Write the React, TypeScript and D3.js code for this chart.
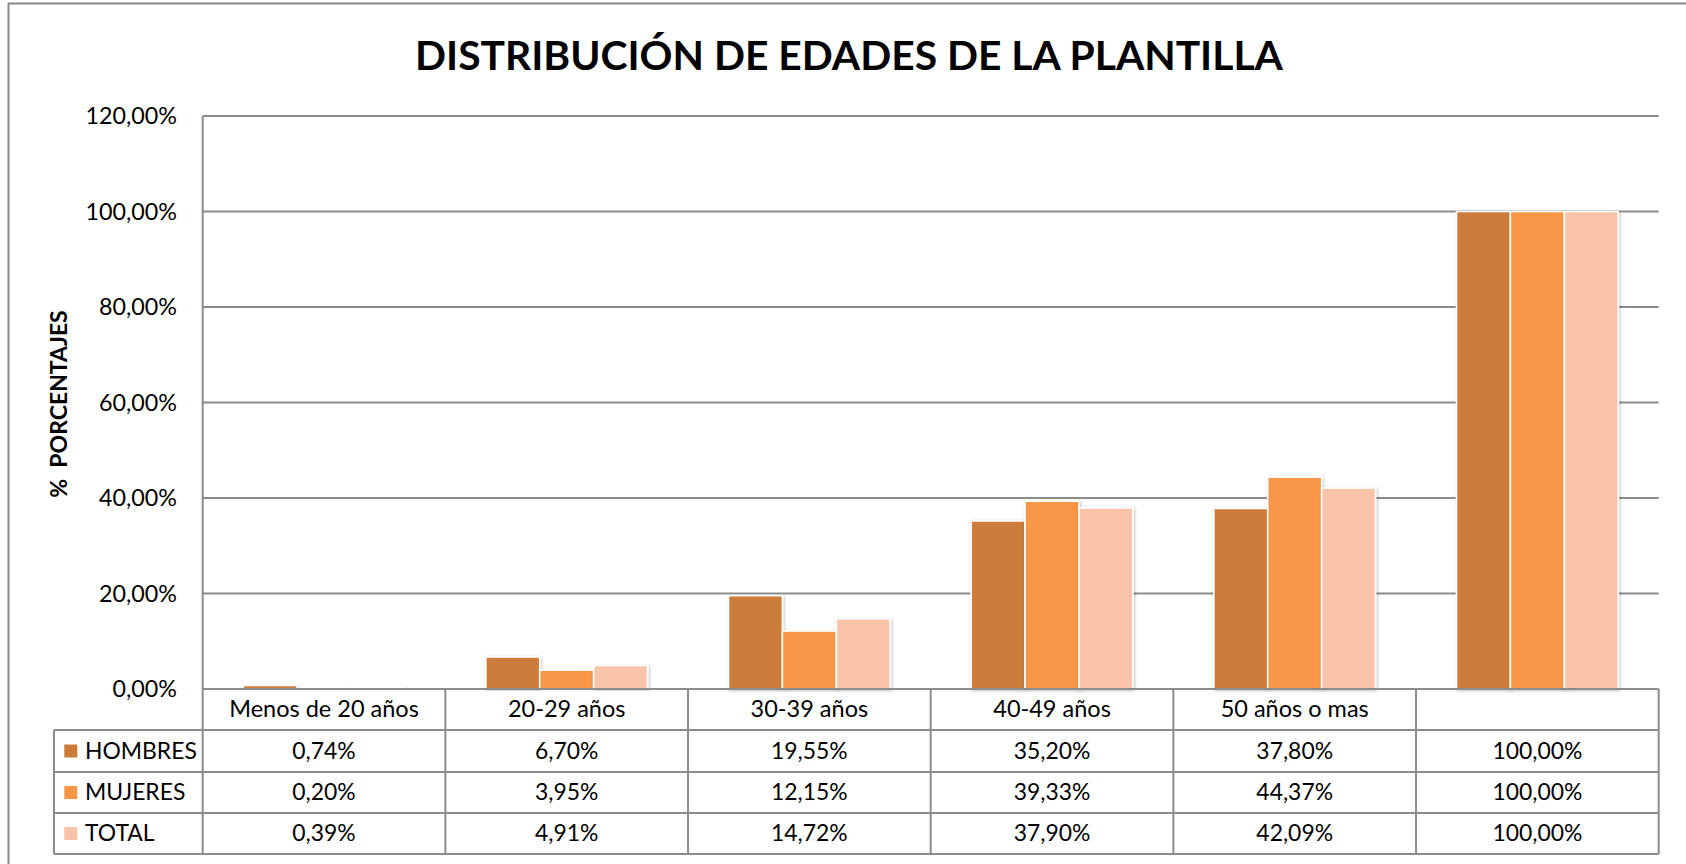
import React from "react";
import * as d3 from "d3";

const categories = ["Menos de 20 años", "20-29 años", "30-39 años", "40-49 años", "50 años o mas", ""];
const seriesNames = ["HOMBRES", "MUJERES", "TOTAL"];
const hombres = [0.0074, 0.067, 0.1955, 0.352, 0.378, 1.0];
const mujeres = [0.002, 0.0395, 0.1215, 0.3933, 0.4437, 1.0];
const total = [0.0039, 0.0491, 0.1472, 0.379, 0.4209, 1.0];
const yTicks = [0, 0.2, 0.4, 0.6, 0.8, 1.0, 1.2];
const colors = ["#CC7B3A", "#F79646", "#F9C3A9"];

const W = 1686;
const H = 864;
const plotLeft = 202.7;
const plotRight = 1658.7;
const plotTop = 116;
const plotBottom = 689;
const rowYs = [689, 730, 772, 813, 854];
const tableLeft = 54;
const FONT = "Lato, 'Open Sans', sans-serif";
const lineColor = "#8c8c8c";

const fmt = (v: number) => (v * 100).toFixed(2).replace(".", ",") + "%";

export default function App() {
  const series = [hombres, mujeres, total];
  const x = d3.scaleBand<string>().domain(categories.map((_, i) => String(i))).range([plotLeft, plotRight]).paddingInner(0).paddingOuter(0);
  const xs = d3.scaleBand<string>().domain(seriesNames).range([0, x.bandwidth()]).paddingInner(0).paddingOuter(0.75);
  const y = d3.scaleLinear().domain([0, 1.2]).range([plotBottom, plotTop]);

  const boundaries = categories.map((_, i) => x(String(i)) as number).concat([plotRight]);

  return (
    <svg width={W} height={H} style={{ position: "absolute", left: 0, top: 0, display: "block", background: "#fff" }} fontFamily={FONT}>
      <defs>
        <filter id="sh" x="-20%" y="-5%" width="140%" height="110%">
          <feDropShadow dx="1" dy="1" stdDeviation="1.6" floodColor="#000" floodOpacity="0.28" />
        </filter>
      </defs>
      <rect x={0} y={0} width={W} height={H} fill="#fff" />
      {/* outer frame */}
      <rect x={8.5} y={3.5} width={W + 20} height={H + 20} fill="none" stroke="#888" strokeWidth={2} />

      {/* title */}
      <text x={849} y={70} textAnchor="middle" fontSize={40.8} fontWeight="bold" fill="#000">
        DISTRIBUCIÓN DE EDADES DE LA PLANTILLA
      </text>

      {/* gridlines */}
      {yTicks.filter((t) => t > 0).map((t) => (
        <line key={t} x1={plotLeft} x2={plotRight} y1={y(t)} y2={y(t)} stroke={lineColor} strokeWidth={2} />
      ))}

      {/* y tick labels */}
      {yTicks.map((t) => (
        <text key={t} x={177} y={y(t) + 8} textAnchor="end" fontSize={23.3} fill="#000">
          {fmt(t)}
        </text>
      ))}

      {/* y axis title */}
      <text transform={`translate(67,404) rotate(-90)`} textAnchor="middle" fontSize={23} fontWeight="bold" fill="#000" style={{ whiteSpace: "pre" }}>
        {"%  PORCENTAJES"}
      </text>

      {/* bars */}
      {series.map((vals, si) =>
        vals.map((v, ci) => {
          const bx = (x(String(ci)) as number) + (xs(seriesNames[si]) as number);
          const by = y(v);
          return (
            <rect
              key={`${si}-${ci}`}
              x={bx}
              y={by}
              width={xs.bandwidth()}
              height={plotBottom - by}
              fill={colors[si]}
              stroke="#fff"
              strokeWidth={1.6}
              filter="url(#sh)"
            />
          );
        })
      )}

      {/* table horizontal lines */}
      <line x1={plotLeft} x2={plotRight} y1={rowYs[0]} y2={rowYs[0]} stroke={lineColor} strokeWidth={2} />
      {rowYs.slice(1).map((ry) => (
        <line key={ry} x1={tableLeft} x2={plotRight} y1={ry} y2={ry} stroke={lineColor} strokeWidth={2} />
      ))}
      {/* table vertical lines */}
      <line x1={plotLeft} x2={plotLeft} y1={plotTop} y2={rowYs[4]} stroke={lineColor} strokeWidth={2} />
      <line x1={tableLeft} x2={tableLeft} y1={rowYs[1]} y2={rowYs[4]} stroke={lineColor} strokeWidth={2} />
      {boundaries.slice(1).map((bx, i) => (
        <line key={i} x1={bx} x2={bx} y1={rowYs[0]} y2={rowYs[4]} stroke={lineColor} strokeWidth={2} />
      ))}

      {/* category labels */}
      {categories.map((c, i) => (
        <text key={i} x={(x(String(i)) as number) + x.bandwidth() / 2} y={(rowYs[0] + rowYs[1]) / 2 + 7} textAnchor="middle" fontSize={23.5} fill="#000">
          {c}
        </text>
      ))}

      {/* legend column + values */}
      {series.map((vals, si) => {
        const cy = (rowYs[si + 1] + rowYs[si + 2]) / 2;
        return (
          <g key={si}>
            <rect x={64.3} y={cy - 6.5} width={13} height={13} fill={colors[si]} />
            <text x={85} y={cy + 7.5} fontSize={22.9} fill="#000">
              {seriesNames[si]}
            </text>
            {vals.map((v, ci) => (
              <text key={ci} x={(x(String(ci)) as number) + x.bandwidth() / 2} y={cy + 7.5} textAnchor="middle" fontSize={22.9} fill="#000">
                {fmt(v)}
              </text>
            ))}
          </g>
        );
      })}
    </svg>
  );
}
